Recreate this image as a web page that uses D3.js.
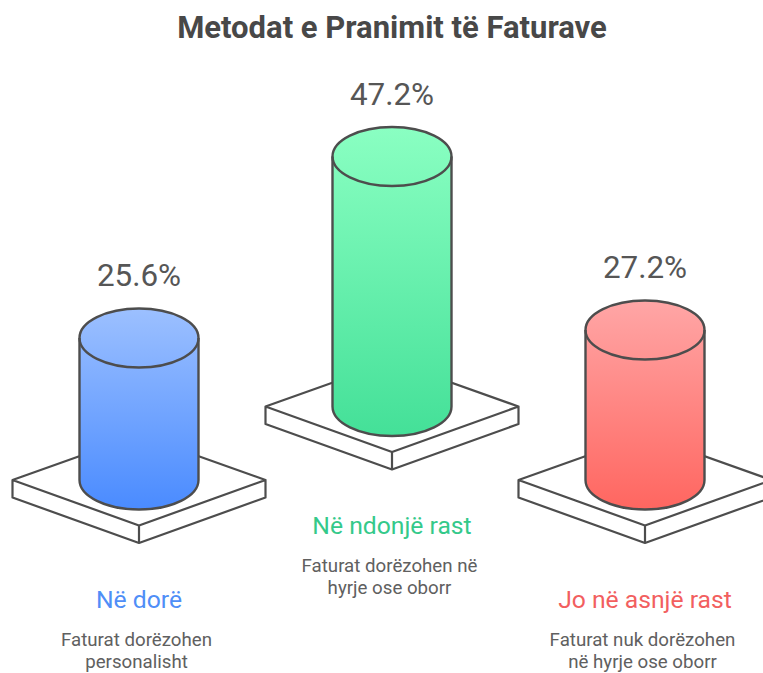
<!DOCTYPE html>
<meta charset="utf-8">
<script src="https://d3js.org/d3.v7.min.js"></script>
<style>
    html, body { margin: 0; padding: 0; background: #fff; overflow: hidden; }
    svg { display: block; font-family: Roboto, sans-serif; }
</style>
<div id="chart"></div>
<script>
    // Chart data
    const title = "Metodat e Pranimit të Faturave";
    const categories = ["Në dorë", "Në ndonjë rast", "Jo në asnjë rast"];
    const values = [25.6, 47.2, 27.2];
    const descriptions = [
        ["Faturat dorëzohen", "personalisht"],
        ["Faturat dorëzohen në", "hyrje ose oborr"],
        ["Faturat nuk dorëzohen", "në hyrje ose oborr"]
    ];
    const labelColors = ["#4f8ef7", "#34c98a", "#f25f5f"];
    const gradTop = ["#9cc0ff", "#8affc2", "#ffa6a6"];
    const gradBottom = ["#4a8bff", "#44e098", "#ff6660"];

    const width = 763, height = 673;
    const ink = "#4d4d4d";

    const svg = d3.select("#chart")
                .append("svg")
                .attr("width", width)
                .attr("height", height);

    // Column centres
    const x = d3.scalePoint()
                .domain(categories)
                .range([139, 645]);

    // Cylinder height between the two ellipse centres
    const h = d3.scaleLinear()
                .domain([0, 50])
                .range([14, 264]);

    // The middle column sits higher than the other two
    const baseY = (d, i) => i % 2 ? 406.5 : 480;

    const rx = 59.5, ry = 29.5;
    const plate = {halfW: 126.5, back: 45, front: 45.5, thick: 17.5};

    const defs = svg.append("defs");
    categories.forEach((c, i) => {
        const g = defs.append("linearGradient")
            .attr("id", "grad" + i)
            .attr("x1", 0).attr("y1", 0)
            .attr("x2", 0).attr("y2", 1);
        g.append("stop").attr("offset", "0%").attr("stop-color", gradTop[i]);
        g.append("stop").attr("offset", "100%").attr("stop-color", gradBottom[i]);
    });

    svg.append("text")
        .attr("x", 392)
        .attr("y", 38)
        .attr("text-anchor", "middle")
        .attr("font-size", 31)
        .attr("font-weight", 700)
        .attr("fill", "#484848")
        .text(title);

    const col = svg.selectAll("g.col")
        .data(categories)
        .join("g")
        .attr("class", "col")
        .attr("transform", (d, i) => `translate(${x(d)}, ${baseY(d, i)})`);

    // Base plate
    col.append("path")
        .attr("d", `M${-plate.halfW},0 L0,${-plate.back} L${plate.halfW},0 L0,${plate.front} Z`
            + `M${-plate.halfW},0 v${plate.thick} L0,${plate.front + plate.thick} L${plate.halfW},${plate.thick} V0`
            + `M0,${plate.front} v${plate.thick}`)
        .attr("fill", "#fff")
        .attr("stroke", ink)
        .attr("stroke-width", 2.2)
        .attr("stroke-linejoin", "round");

    // Cylinder body
    col.append("path")
        .attr("d", (d, i) => {
            const t = -h(values[i]);
            return `M${-rx},${t} V0 A${rx},${ry} 0 0 0 ${rx},0 V${t} A${rx},${ry} 0 0 0 ${-rx},${t} Z`;
        })
        .attr("fill", (d, i) => `url(#grad${i})`)
        .attr("stroke", ink)
        .attr("stroke-width", 2.4);

    // Front edge of the top ellipse
    col.append("path")
        .attr("d", (d, i) => {
            const t = -h(values[i]);
            return `M${-rx},${t} A${rx},${ry} 0 0 0 ${rx},${t}`;
        })
        .attr("fill", "none")
        .attr("stroke", ink)
        .attr("stroke-width", 2.4);

    // Value above each cylinder
    col.append("text")
        .attr("y", (d, i) => -h(values[i]) - 52)
        .attr("text-anchor", "middle")
        .attr("font-size", 31.4)
        .attr("fill", "#565656")
        .text((d, i) => values[i] + "%");

    col.append("text")
        .attr("y", 127.5)
        .attr("text-anchor", "middle")
        .attr("font-size", 24.7)
        .attr("fill", (d, i) => labelColors[i])
        .text(d => d);

    col.each(function(d, i) {
        d3.select(this).selectAll("text.desc")
            .data(descriptions[i])
            .join("text")
            .attr("class", "desc")
            .attr("x", -2.5)
            .attr("y", (s, j) => 165.5 + j * 22)
            .attr("text-anchor", "middle")
            .attr("font-size", 18.7)
            .attr("fill", "#606060")
            .text(s => s);
    });
</script>
